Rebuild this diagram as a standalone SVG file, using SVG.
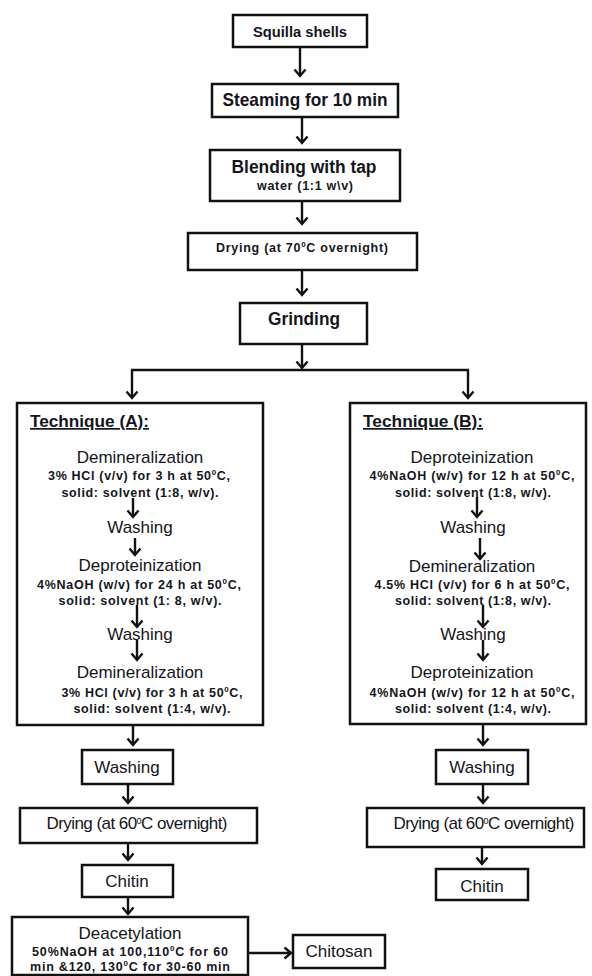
<svg xmlns="http://www.w3.org/2000/svg" width="592" height="976" viewBox="0 0 592 976">
<style>
.box{fill:#fff;stroke:#111;stroke-width:2.5}
text{font-family:"Liberation Sans",Arial,sans-serif;fill:#151520}
.t{font-size:17px;text-anchor:middle}
.b{font-weight:bold;text-anchor:middle}
.s{font-size:12.5px;font-weight:bold;text-anchor:middle}
.h{font-size:17px;font-weight:bold;text-decoration:underline}
.c{fill:none;stroke:#111;stroke-width:2.4}
</style>
<defs>
<marker id="ah" viewBox="-8 -7 10 14" refX="0" refY="0" markerWidth="10" markerHeight="14" orient="auto" markerUnits="userSpaceOnUse">
<path d="M-6.5,-5.5 L0,0 L-6.5,5.5" fill="none" stroke="#111" stroke-width="2.4"/>
</marker>
</defs>

<g id="squilla">
<rect class="box" x="233" y="15" width="134" height="32"/>
<text class="b" x="300" y="37" font-size="14.5" textLength="94" lengthAdjust="spacingAndGlyphs">Squilla shells</text>
</g>
<g id="steaming">
<rect class="box" x="212" y="84" width="186" height="33"/>
<text class="b" x="305" y="106" font-size="19" textLength="165" lengthAdjust="spacingAndGlyphs">Steaming for 10 min</text>
</g>
<g id="blending">
<rect class="box" x="210" y="150" width="190" height="51"/>
<text class="b" x="304" y="173" font-size="18" textLength="145" lengthAdjust="spacingAndGlyphs">Blending with tap</text>
<text class="s" x="305" y="190" textLength="96">water (1:1 w\v)</text>
</g>
<g id="drying70">
<rect class="box" x="188" y="233" width="229" height="37"/>
<text class="b" x="302" y="252" font-size="12.5" textLength="172">Drying (at 70<tspan font-size="8" dy="-5">0</tspan><tspan dy="5">C overnight)</tspan></text>
</g>
<g id="grinding">
<rect class="box" x="240" y="303" width="127" height="41"/>
<text class="b" x="304" y="325" font-size="18" textLength="72" lengthAdjust="spacingAndGlyphs">Grinding</text>
</g>

<g id="techniqueA">
<rect class="box" x="17" y="403" width="246" height="322"/>
<text class="h" x="30" y="427" textLength="119" lengthAdjust="spacingAndGlyphs">Technique (A):</text>
<text class="t" x="140" y="463">Demineralization</text>
<text class="s" x="139" y="480" textLength="182">3% HCl (v/v) for 3 h at 50<tspan font-size="8" dy="-5">0</tspan><tspan dy="5">C,</tspan></text>
<text class="s" x="140" y="497" textLength="157">solid: solvent (1:8, w/v).</text>
<text class="t" x="140" y="533">Washing</text>
<text class="t" x="140" y="571">Deproteinization</text>
<text class="s" x="139" y="589" textLength="204">4%NaOH (w/v) for 24 h at 50<tspan font-size="8" dy="-5">0</tspan><tspan dy="5">C,</tspan></text>
<text class="s" x="140" y="605" textLength="163">solid: solvent (1: 8, w/v).</text>
<text class="t" x="140" y="640">Washing</text>
<text class="t" x="140" y="678">Demineralization</text>
<text class="s" x="152" y="697" textLength="181">3% HCl (v/v) for 3 h at 50<tspan font-size="8" dy="-5">0</tspan><tspan dy="5">C,</tspan></text>
<text class="s" x="152" y="713" textLength="157">solid: solvent (1:4, w/v).</text>
</g>

<g id="techniqueB">
<rect class="box" x="350" y="403" width="236" height="321"/>
<text class="h" x="363" y="427" textLength="120" lengthAdjust="spacingAndGlyphs">Technique (B):</text>
<text class="t" x="472" y="463">Deproteinization</text>
<text class="s" x="472" y="480" textLength="205">4%NaOH (w/v) for 12 h at 50<tspan font-size="8" dy="-5">0</tspan><tspan dy="5">C,</tspan></text>
<text class="s" x="473" y="497" textLength="156">solid: solvent (1:8, w/v).</text>
<text class="t" x="473" y="533">Washing</text>
<text class="t" x="472" y="572">Demineralization</text>
<text class="s" x="472" y="589" textLength="195">4.5% HCl (v/v) for 6 h at 50<tspan font-size="8" dy="-5">0</tspan><tspan dy="5">C,</tspan></text>
<text class="s" x="473" y="605" textLength="156">solid: solvent (1:8, w/v).</text>
<text class="t" x="473" y="640">Washing</text>
<text class="t" x="472" y="678">Deproteinization</text>
<text class="s" x="472" y="697" textLength="205">4%NaOH (w/v) for 12 h at 50<tspan font-size="8" dy="-5">0</tspan><tspan dy="5">C,</tspan></text>
<text class="s" x="473" y="713" textLength="156">solid: solvent (1:4, w/v).</text>
</g>

<g id="washingA">
<rect class="box" x="82" y="750" width="91" height="34"/>
<text class="t" x="127" y="773">Washing</text>
</g>
<g id="dryingA">
<rect class="box" x="20" y="808" width="237" height="35"/>
<text class="t" x="137" y="829" font-size="15" textLength="181">Drying (at 60<tspan font-size="9" dy="-5">0</tspan><tspan dy="5">C overnight)</tspan></text>
</g>
<g id="chitinA">
<rect class="box" x="82" y="865" width="91" height="32"/>
<text class="t" x="127" y="887">Chitin</text>
</g>
<g id="deacetylation">
<rect class="box" x="12" y="917" width="236" height="58"/>
<text class="t" x="130" y="939">Deacetylation</text>
<text class="s" x="130" y="956" textLength="196">50%NaOH at 100,110<tspan font-size="8" dy="-5">0</tspan><tspan dy="5">C for 60</tspan></text>
<text class="s" x="130" y="971" textLength="200">min &amp;120, 130<tspan font-size="8" dy="-5">0</tspan><tspan dy="5">C for 30-60 min</tspan></text>
</g>
<g id="chitosan">
<rect class="box" x="293" y="935" width="92" height="33"/>
<text class="t" x="339" y="957">Chitosan</text>
</g>

<g id="washingB">
<rect class="box" x="436" y="750" width="92" height="34"/>
<text class="t" x="482" y="773">Washing</text>
</g>
<g id="dryingB">
<rect class="box" x="367" y="808" width="217" height="39"/>
<text class="t" x="484" y="829" font-size="15" textLength="181">Drying (at 60<tspan font-size="9" dy="-5">0</tspan><tspan dy="5">C overnight)</tspan></text>
</g>
<g id="chitinB">
<rect class="box" x="436" y="869" width="92" height="31"/>
<text class="t" x="482" y="892">Chitin</text>
</g>

<g id="connectors">
<path class="c" d="M300,47 V76" marker-end="url(#ah)"/>
<path class="c" d="M302,117 V143" marker-end="url(#ah)"/>
<path class="c" d="M302,201 V224" marker-end="url(#ah)"/>
<path class="c" d="M302,270 V295" marker-end="url(#ah)"/>
<path class="c" d="M302,344 V368" marker-end="url(#ah)"/>
<path class="c" d="M131,370 H469"/>
<path class="c" d="M132,370 V398" marker-end="url(#ah)"/>
<path class="c" d="M468,370 V398" marker-end="url(#ah)"/>
<path class="c" d="M133,498 V517" marker-end="url(#ah)"/>
<path class="c" d="M135,538 V555" marker-end="url(#ah)"/>
<path class="c" d="M137,605 V627" marker-end="url(#ah)"/>
<path class="c" d="M137,640 V660" marker-end="url(#ah)"/>
<path class="c" d="M477,497 V517" marker-end="url(#ah)"/>
<path class="c" d="M480,538 V559" marker-end="url(#ah)"/>
<path class="c" d="M483,605 V627" marker-end="url(#ah)"/>
<path class="c" d="M483,640 V660" marker-end="url(#ah)"/>
<path class="c" d="M133,725 V745" marker-end="url(#ah)"/>
<path class="c" d="M128,784 V803" marker-end="url(#ah)"/>
<path class="c" d="M128,843 V860" marker-end="url(#ah)"/>
<path class="c" d="M128,897 V914" marker-end="url(#ah)"/>
<path class="c" d="M248,953 H291" marker-end="url(#ah)"/>
<path class="c" d="M483,724 V745" marker-end="url(#ah)"/>
<path class="c" d="M483,784 V803" marker-end="url(#ah)"/>
<path class="c" d="M482,847 V864" marker-end="url(#ah)"/>
</g>
</svg>
